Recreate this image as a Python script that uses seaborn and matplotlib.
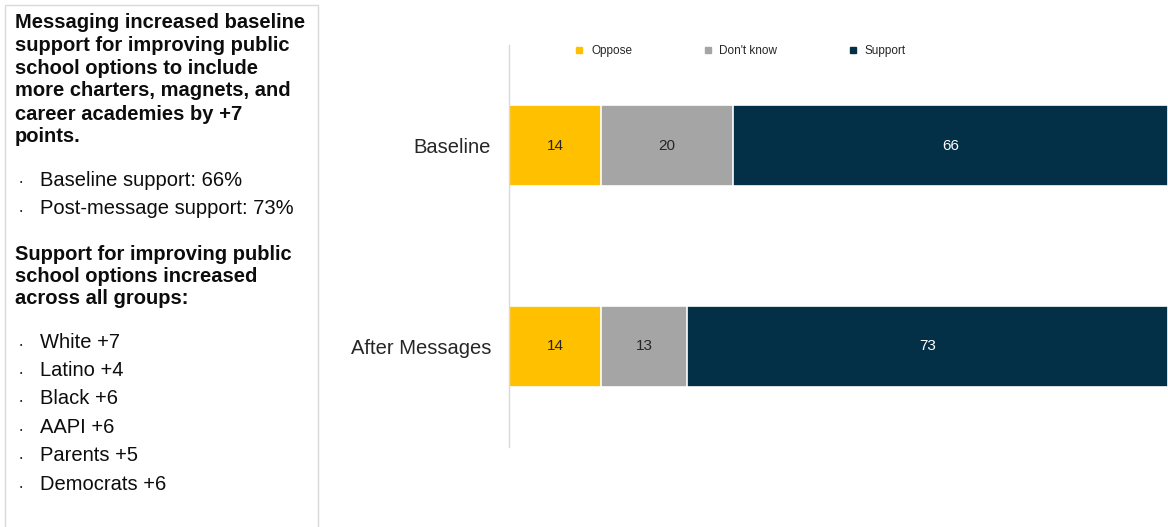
import matplotlib
matplotlib.use("Agg")
import matplotlib.pyplot as plt
from matplotlib.lines import Line2D
from matplotlib.patches import Rectangle
import seaborn as sns
import pandas as pd

# data
categories = ["Baseline", "After Messages"]
oppose = [14, 14]
dont_know = [20, 13]
support = [66, 73]
series_names = ["Oppose", "Don't know", "Support"]
colors = ["#FFC000", "#A5A5A5", "#032F47"]
label_colors = ["#262626", "#262626", "white"]

heading1 = ["Messaging increased baseline", "support for improving public",
            "school options to include", "more charters, magnets, and",
            "career academies by +7", "points."]
bullets1 = ["Baseline support: 66%", "Post-message support: 73%"]
heading2 = ["Support for improving public", "school options increased",
            "across all groups:"]
bullets2 = ["White +7", "Latino +4", "Black +6", "AAPI +6", "Parents +5", "Democrats +6"]

sns.set_theme(style="white")
plt.rcParams['font.family'] = ['Liberation Sans', 'DejaVu Sans']

W, H = 1168, 527
fig = plt.figure(figsize=(W / 100, H / 100), dpi=100)
ax = fig.add_axes([509 / W, 1 - 447 / H, 1 - 509 / W, 402 / H])

df = pd.DataFrame({"cat": categories, "Oppose": oppose,
                   "Don't know": dont_know, "Support": support})
cum = df[series_names].cumsum(axis=1)

# stacked bars, drawn back to front
for name, col in reversed(list(zip(series_names, colors))):
    sns.barplot(data=cum, x=cum[name], y=df["cat"], orient="h", color=col,
                width=0.4, edgecolor="white", linewidth=1.2, ax=ax, saturation=1)

for i in range(len(categories)):
    left = 0
    for name, tc in zip(series_names, label_colors):
        v = df[name][i]
        ax.text(left + v / 2, i, f"{v}", ha="center", va="center",
                fontsize=11, color=tc)
        left += v

ax.set_xlim(0, 100)
ax.set_ylim(1.5, -0.5)
ax.set_xlabel("")
ax.set_ylabel("")
ax.set_xticks([])
ax.tick_params(axis="y", length=0, pad=13, labelsize=14.5, labelcolor="#262626")
for s in ["top", "right", "bottom"]:
    ax.spines[s].set_visible(False)
ax.spines["left"].set_color("#D9D9D9")
ax.spines["left"].set_linewidth(1)

handles = [Line2D([], [], marker="s", linestyle="none", markersize=4,
                  markerfacecolor=c, markeredgecolor=c) for c in colors]
ax.legend(handles, series_names, ncol=3, loc="center",
          bbox_to_anchor=(0.35, 0.985), frameon=False, fontsize=8.5,
          handletextpad=0.5, columnspacing=5.9, handlelength=1,
          labelcolor="#262626")

# text panel on the left
fig.patches.append(Rectangle((5 / W, -0.05), 313 / W, 1 - 5 / H + 0.05,
                             transform=fig.transFigure, facecolor="white",
                             edgecolor="#D9D9D9", linewidth=1))

def fy(y):
    return 1 - y / H

ink = "#0D0D0D"
for k, line in enumerate(heading1):
    fig.text(15 / W, fy(22 + 23 * k), line, fontsize=14.5, fontweight="bold",
             color=ink, va="center")
for k, line in enumerate(bullets1):
    y = 180 + 28 * k
    fig.text(20 / W, fy(y + 3), "•", fontsize=5, color=ink, va="center")
    fig.text(40 / W, fy(y), line, fontsize=14.5, color=ink, va="center")
for k, line in enumerate(heading2):
    fig.text(15 / W, fy(255 + 21.5 * k), line, fontsize=14.5, fontweight="bold",
             color=ink, va="center")
for k, line in enumerate(bullets2):
    y = 342 + 28.4 * k
    fig.text(20 / W, fy(y + 3), "•", fontsize=5, color=ink, va="center")
    fig.text(40 / W, fy(y), line, fontsize=14.5, color=ink, va="center")

fig.savefig("out.png", dpi=100)
